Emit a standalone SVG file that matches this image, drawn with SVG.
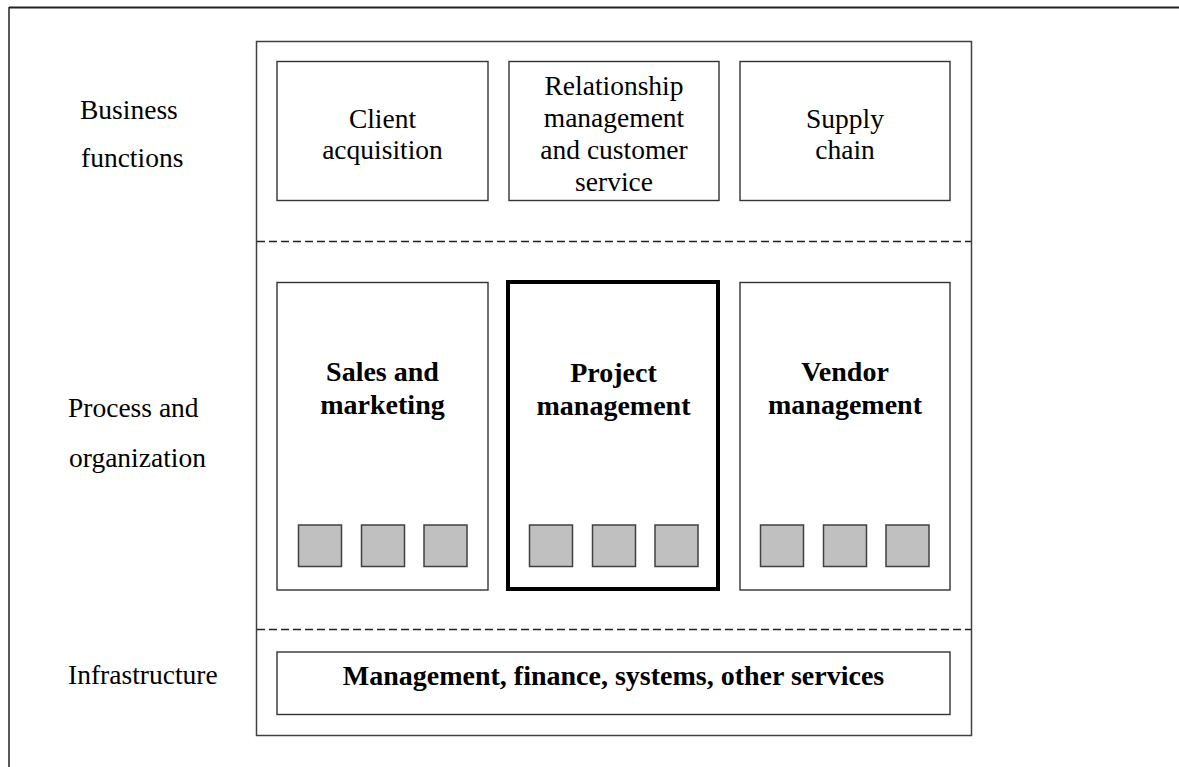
<svg xmlns="http://www.w3.org/2000/svg" width="1179" height="767" viewBox="0 0 1179 767">
<style>
text{font-family:"Liberation Serif","Times New Roman",serif;font-size:27.5px;fill:#000}
.c{text-anchor:middle}
.b{font-weight:bold;font-size:28px}
.box{fill:#fff;stroke:#333;stroke-width:1.4}
.thick{fill:#fff;stroke:#000;stroke-width:4}
.sq{fill:#c0c0c0;stroke:#404040;stroke-width:1.5}
.dash{stroke:#222;stroke-width:1.3;stroke-dasharray:8 4;fill:none}
.frame{fill:#fff;stroke:#404040;stroke-width:1.5}
</style>
<rect width="1179" height="767" fill="#fff"/>
<g id="page-border">
<line x1="9" y1="7.5" x2="1179" y2="7.5" stroke="#222" stroke-width="2"/>
<line x1="9" y1="7" x2="9" y2="767" stroke="#222" stroke-width="1.5"/>
</g>
<g id="frame">
<rect class="frame" x="256.5" y="41.5" width="715" height="694"/>
</g>
<g id="connectors">
<line class="dash" x1="257" y1="241.5" x2="971" y2="241.5"/>
<line class="dash" x1="257" y1="629.5" x2="971" y2="629.5"/>
</g>
<g id="labels">
<text x="80" y="119">Business</text>
<text x="81" y="167">functions</text>
<text x="68" y="417">Process and</text>
<text x="69" y="467">organization</text>
<text x="68" y="684">Infrastructure</text>
</g>
<g id="client-acquisition">
<rect class="box" x="277" y="61.5" width="211" height="139"/>
<text class="c" x="382.5" y="128">Client</text>
<text class="c" x="382.5" y="158.5">acquisition</text>
</g>
<g id="relationship-management">
<rect class="box" x="509" y="61.5" width="210" height="139"/>
<text class="c" x="614" y="95">Relationship</text>
<text class="c" x="614" y="127">management</text>
<text class="c" x="614" y="159">and customer</text>
<text class="c" x="614" y="191">service</text>
</g>
<g id="supply-chain">
<rect class="box" x="740" y="61.5" width="210" height="139"/>
<text class="c" x="845" y="128">Supply</text>
<text class="c" x="845" y="158.5">chain</text>
</g>
<g id="sales-marketing">
<rect class="box" x="277" y="282.5" width="211" height="307.5"/>
<text class="c b" x="382.5" y="381">Sales and</text>
<text class="c b" x="382.5" y="414">marketing</text>
<rect class="sq" x="298.5" y="525" width="43" height="41.5"/>
<rect class="sq" x="361.5" y="525" width="43" height="41.5"/>
<rect class="sq" x="424" y="525" width="43" height="41.5"/>
</g>
<g id="project-management">
<rect class="thick" x="508" y="282" width="210" height="307"/>
<text class="c b" x="613.5" y="382">Project</text>
<text class="c b" x="613.5" y="415">management</text>
<rect class="sq" x="529.5" y="525" width="43" height="41.5"/>
<rect class="sq" x="592.5" y="525" width="43" height="41.5"/>
<rect class="sq" x="655" y="525" width="43" height="41.5"/>
</g>
<g id="vendor-management">
<rect class="box" x="740" y="282.5" width="210" height="307.5"/>
<text class="c b" x="845" y="381">Vendor</text>
<text class="c b" x="845" y="414">management</text>
<rect class="sq" x="760.5" y="525" width="43" height="41.5"/>
<rect class="sq" x="823.5" y="525" width="43" height="41.5"/>
<rect class="sq" x="886" y="525" width="43" height="41.5"/>
</g>
<g id="infrastructure">
<rect class="box" x="277" y="652" width="673" height="62.5"/>
<text class="c b" x="613.5" y="685">Management, finance, systems, other services</text>
</g>
</svg>
